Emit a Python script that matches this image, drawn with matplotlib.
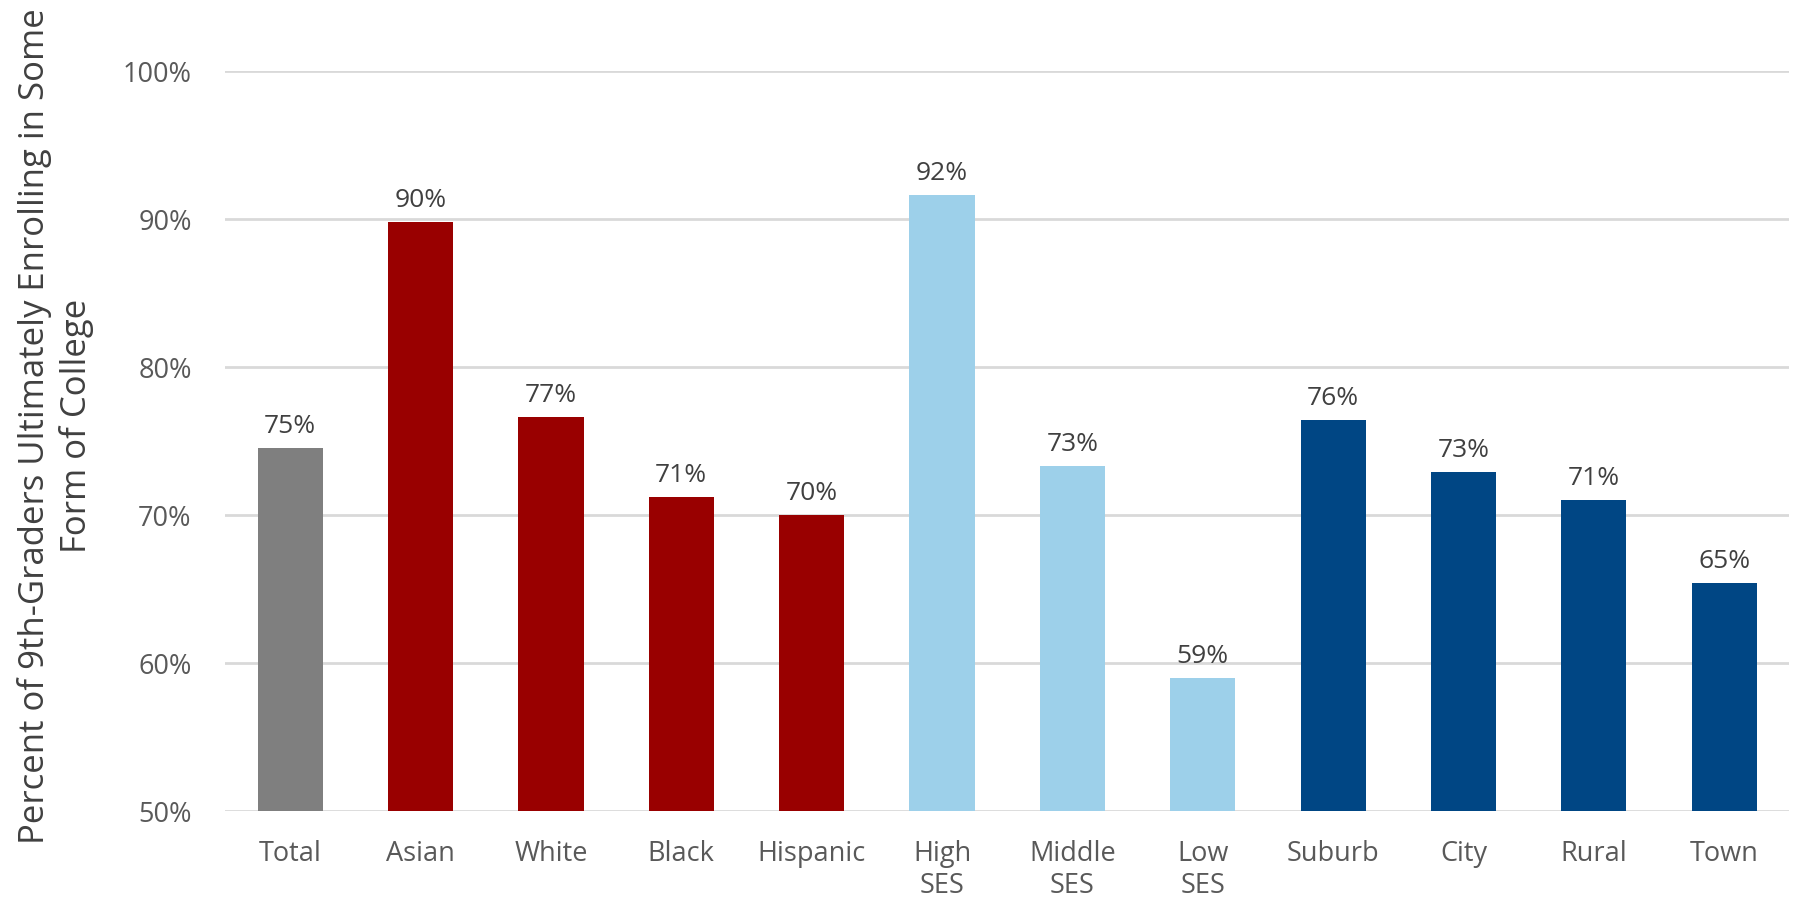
import numpy as np
import matplotlib.pyplot as plt

categories = ["Total", "Asian", "White", "Black", "Hispanic", "High\nSES", "Middle\nSES",
              "Low\nSES", "Suburb", "City", "Rural", "Town"]
values = [74.5, 89.8, 76.6, 71.2, 70.0, 91.6, 73.3, 59.0, 76.4, 72.9, 71.0, 65.4]
value_labels = ["75%", "90%", "77%", "71%", "70%", "92%", "73%", "59%", "76%", "73%", "71%", "65%"]
groups = ["total", "race", "race", "race", "race", "ses", "ses", "ses",
          "locale", "locale", "locale", "locale"]
yticks = [50, 60, 70, 80, 90, 100]

group_colors = {"total": "#7f7f7f", "race": "#990000", "ses": "#9dd0ea", "locale": "#004684"}

plt.rcParams['font.family'] = ['Open Sans', 'DejaVu Sans']

fig = plt.figure(figsize=(17.93, 9.07), dpi=100)
ax = fig.add_axes([0.1255, 0.1058, 0.8725, 0.8159])

x = np.arange(len(categories))
colors = [group_colors[g] for g in groups]
bars = ax.bar(x, np.array(values) - 50, bottom=50, width=0.5, color=colors, zorder=3)

for xi, v, lab in zip(x, values, value_labels):
    ax.annotate(lab, (xi, v), xytext=(0, 11), textcoords="offset points",
                ha="center", va="baseline", fontsize=19, color="#404040")

ax.set_xlim(-0.5, len(categories) - 0.5)
ax.set_ylim(50, 100)
ax.set_yticks(yticks)
ax.set_yticklabels([f"{t}%" for t in yticks])
ax.set_xticks(x)
ax.set_xticklabels(categories)
ax.tick_params(axis="y", length=0, pad=24, labelsize=19.5, labelcolor="#595959")
ax.tick_params(axis="x", length=0, pad=21, labelsize=19.5, labelcolor="#595959")
for s in ax.spines.values():
    s.set_visible(False)
ax.grid(axis="y", color="#d9d9d9", linewidth=2, zorder=0)
ax.set_axisbelow(True)

fig.text(0.031, 0.53, "Percent of 9th-Graders Ultimately Enrolling in Some\nForm of College",
         rotation=90, ha="center", va="center", multialignment="center",
         fontsize=25, color="#404040", linespacing=1.25)

fig.savefig("out.png", dpi=100)
